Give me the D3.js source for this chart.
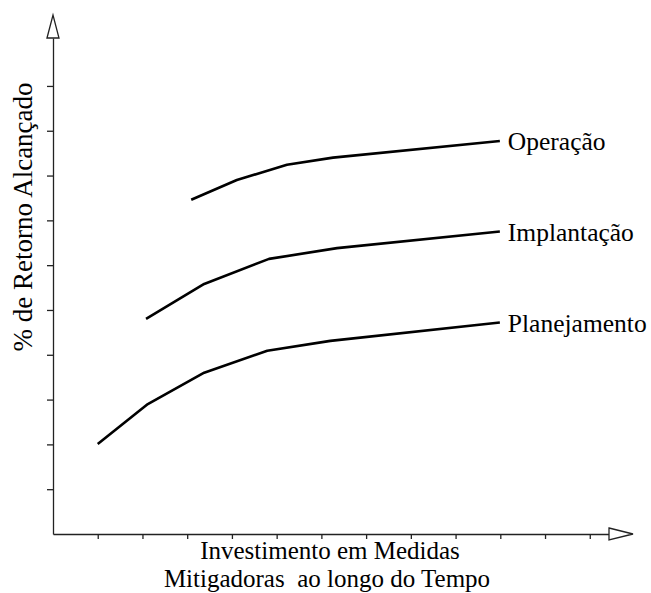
<!DOCTYPE html>
<html>
<head>
<meta charset="utf-8">
<script src="https://cdn.jsdelivr.net/npm/d3@7"></script>
<style>
  body { margin: 0; background: #fff; }
  svg { display: block; }
  text { font-family: "Liberation Serif", "Times New Roman", serif; fill: #000; }
</style>
</head>
<body>
<div id="chart"></div>
<script>
// dados (unidades = marcas dos eixos)
const series = ["Planejamento", "Implantação", "Operação"];
const planejamentoX = [1.0, 2.12, 3.38, 4.79, 6.2, 9.99];
const planejamentoY = [2.01, 2.9, 3.6, 4.09, 4.31, 4.72];
const implantacaoX = [2.08, 3.38, 4.83, 6.35, 9.99];
const implantacaoY = [4.8, 5.58, 6.14, 6.38, 6.75];
const operacaoX = [3.09, 4.11, 5.23, 6.26, 9.99];
const operacaoY = [7.46, 7.9, 8.24, 8.4, 8.77];
const xTicks = d3.range(1, 13);   // 12 marcas no eixo x
const yTicks = d3.range(1, 11);   // 10 marcas no eixo y
const xTitle = ["Investimento em Medidas", "Mitigadoras  ao longo do Tempo"];
const yTitle = "% de Retorno Alcançado";

const W = 651, H = 593;
const svg = d3.select("#chart").append("svg")
  .attr("width", W).attr("height", H);

const x = d3.scaleLinear().domain([0, 12.43]).range([53, 609]);
const y = d3.scaleLinear().domain([0, 11.07]).range([534, 38]);

// eixos
const gx = svg.append("g")
  .attr("transform", `translate(0,${y(0)})`)
  .call(d3.axisBottom(x).tickValues(xTicks).tickSizeInner(5).tickSizeOuter(0).tickFormat(""));
const gy = svg.append("g")
  .attr("transform", `translate(${x(0)},0)`)
  .call(d3.axisLeft(y).tickValues(yTicks).tickSizeInner(6).tickSizeOuter(0).tickFormat(""));
[gx, gy].forEach(g => {
  g.selectAll("path, line").attr("stroke", "#222").attr("stroke-width", 1.3);
});

// setas
const x0 = x(0), y0 = y(0), yTop = y.range()[1], xEnd = x.range()[1];
svg.append("path")
  .attr("d", `M${x0 - 6},${yTop} L${x0},${yTop - 23} L${x0 + 6},${yTop} Z`)
  .attr("fill", "#fff").attr("stroke", "#222").attr("stroke-width", 1.3);
svg.append("path")
  .attr("d", `M${xEnd},${y0 - 6} L${xEnd + 24},${y0} L${xEnd},${y0 + 6} Z`)
  .attr("fill", "#fff").attr("stroke", "#222").attr("stroke-width", 1.3);

// curvas
const data = [
  { name: series[0], pts: d3.zip(planejamentoX, planejamentoY) },
  { name: series[1], pts: d3.zip(implantacaoX, implantacaoY) },
  { name: series[2], pts: d3.zip(operacaoX, operacaoY) }
];
const line = d3.line().x(d => x(d[0])).y(d => y(d[1]));

svg.selectAll(".serie")
  .data(data)
  .enter().append("path")
    .attr("class", "serie")
    .attr("d", d => line(d.pts))
    .attr("fill", "none")
    .attr("stroke", "#000")
    .attr("stroke-width", 2.6)
    .attr("stroke-linejoin", "round");

// rótulos das séries
svg.selectAll(".rotulo")
  .data(data)
  .enter().append("text")
    .attr("class", "rotulo")
    .attr("x", d => x(d.pts[d.pts.length - 1][0]) + 8)
    .attr("y", d => y(d.pts[d.pts.length - 1][1]) + 9)
    .style("font-size", "25.5px")
    .text(d => d.name);

// títulos dos eixos
svg.append("text")
  .attr("x", 330).attr("y", 559)
  .attr("text-anchor", "middle")
  .style("font-size", "25px")
  .text(xTitle[0]);
svg.append("text")
  .attr("x", 327).attr("y", 587)
  .attr("text-anchor", "middle")
  .style("font-size", "25px")
  .style("white-space", "pre")
  .text(xTitle[1]);

svg.append("text")
  .attr("transform", "translate(32,217) rotate(-90)")
  .attr("text-anchor", "middle")
  .style("font-size", "27px")
  .text(yTitle);
</script>
</body>
</html>
